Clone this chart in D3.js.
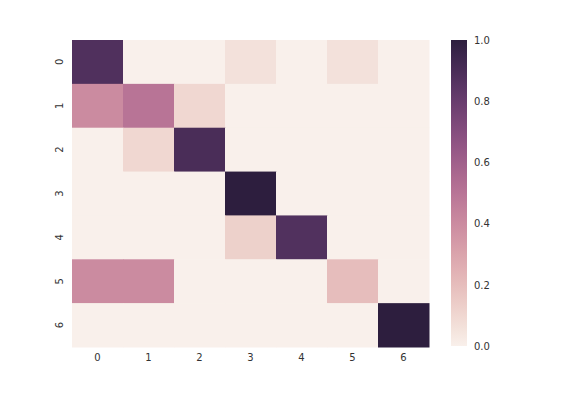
<!DOCTYPE html>
<html>
<head>
<meta charset="utf-8">
<script src="https://cdn.jsdelivr.net/npm/d3@7"></script>
<style>
  body { margin: 0; background: #fff; }
  text { font-family: "DejaVu Sans", sans-serif; }
</style>
</head>
<body>
<script>
// row / column labels
var rows = ["0", "1", "2", "3", "4", "5", "6"];
var cols = ["0", "1", "2", "3", "4", "5", "6"];

// one array per row of the matrix
var row0 = [0.88, 0, 0, 0.06, 0, 0.06, 0];
var row1 = [0.4, 0.5, 0.1, 0, 0, 0, 0];
var row2 = [0, 0.1, 0.9, 0, 0, 0, 0];
var row3 = [0, 0, 0, 1.0, 0, 0, 0];
var row4 = [0, 0, 0, 0.125, 0.875, 0, 0];
var row5 = [0.4, 0.4, 0, 0, 0, 0.2, 0];
var row6 = [0, 0, 0, 0, 0, 0, 1.0];
var matrix = [row0, row1, row2, row3, row4, row5, row6];

var cbarTicks = [0.0, 0.2, 0.4, 0.6, 0.8, 1.0];

var w = 576, h = 396;

// seaborn style cubehelix, light .95 -> dark .15
function cubehelix(v) {
  var light = 0.95, dark = 0.15, start = 0, rot = 0.4, gamma = 1, hue = 0.8;
  var x = light + (dark - light) * v;
  var xg = Math.pow(x, gamma);
  var a = hue * xg * (1 - xg) / 2;
  var phi = 2 * Math.PI * (start / 3 + rot * x);
  function ch(p0, p1) {
    var c = xg + a * (p0 * Math.cos(phi) + p1 * Math.sin(phi));
    return Math.round(Math.max(0, Math.min(1, c)) * 255);
  }
  return "rgb(" + ch(-0.14861, 1.78277) + "," + ch(-0.29227, -0.90649) + "," + ch(1.97294, 0) + ")";
}

var svg = d3.select("body").append("svg")
  .attr("width", w)
  .attr("height", h);

var x = d3.scaleBand().domain(cols).range([72, 429]);
var y = d3.scaleBand().domain(rows).range([40, 347]);

var cells = [];
matrix.forEach(function(r, i) {
  r.forEach(function(v, j) { cells.push({ row: rows[i], col: cols[j], v: v }); });
});

svg.selectAll("rect.cell")
  .data(cells)
  .enter()
  .append("rect")
  .attr("class", "cell")
  .attr("x", function(d) { return x(d.col); })
  .attr("y", function(d) { return y(d.row); })
  .attr("width", x.bandwidth() + 0.5)
  .attr("height", y.bandwidth() + 0.5)
  .attr("fill", function(d) { return cubehelix(d.v); });

var labelColor = "#333";

var xAxis = svg.append("g")
  .attr("transform", "translate(0,347)")
  .call(d3.axisBottom(x).tickSize(0).tickPadding(7));
xAxis.select(".domain").remove();
xAxis.selectAll("text").attr("font-size", 10).attr("fill", labelColor)
  .attr("font-family", "DejaVu Sans, sans-serif");

var yAxis = svg.append("g")
  .attr("transform", "translate(72,0)")
  .call(d3.axisLeft(y).tickSize(0).tickPadding(7));
yAxis.select(".domain").remove();
yAxis.selectAll("text")
  .attr("font-size", 10).attr("fill", labelColor)
  .attr("font-family", "DejaVu Sans, sans-serif")
  .attr("text-anchor", "middle")
  .attr("x", null)
  .attr("transform", "translate(-13,0) rotate(-90)")
  .attr("dy", "0.35em");

// colorbar
var cb = d3.scaleLinear().domain([0, 1]).range([346, 40]);
var defs = svg.append("defs");
var grad = defs.append("linearGradient")
  .attr("id", "cbar")
  .attr("x1", 0).attr("y1", 1).attr("x2", 0).attr("y2", 0);
d3.range(0, 1.0001, 0.05).forEach(function(t) {
  grad.append("stop").attr("offset", t).attr("stop-color", cubehelix(t));
});
svg.append("rect")
  .attr("x", 451)
  .attr("y", cb(1))
  .attr("width", 16)
  .attr("height", cb(0) - cb(1))
  .attr("fill", "url(#cbar)");

var cAxis = svg.append("g")
  .attr("transform", "translate(467,0)")
  .call(d3.axisRight(cb).tickValues(cbarTicks).tickFormat(d3.format(".1f")).tickSize(0).tickPadding(7));
cAxis.select(".domain").remove();
cAxis.selectAll("text").attr("font-size", 10).attr("fill", labelColor)
  .attr("font-family", "DejaVu Sans, sans-serif");
</script>
</body>
</html>
